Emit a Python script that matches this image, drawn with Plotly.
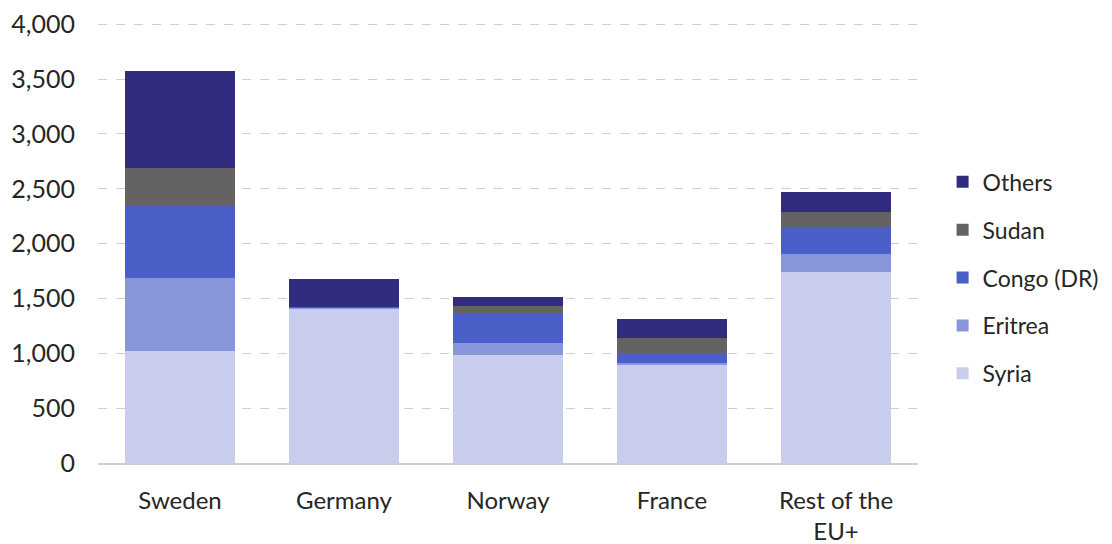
import plotly.graph_objects as go

categories = ["Sweden", "Germany", "Norway", "France", "Rest of the<br>EU+"]
syria = [1020, 1410, 985, 895, 1745]
eritrea = [670, 5, 110, 20, 160]
congo = [650, 10, 275, 80, 245]
sudan = [350, 0, 65, 140, 140]
others = [885, 255, 80, 180, 180]
y_ticks = [0, 500, 1000, 1500, 2000, 2500, 3000, 3500, 4000]

series = [
    ("Syria", syria, "#C9CDED"),
    ("Eritrea", eritrea, "#8996DC"),
    ("Congo (DR)", congo, "#4B5FC8"),
    ("Sudan", sudan, "#646262"),
    ("Others", others, "#312C80"),
]

fig = go.Figure()
for i, (name, vals, col) in enumerate(series):
    fig.add_trace(go.Bar(x=categories, y=vals, name=name, marker_color=col,
                         marker_line_width=0, legendgroup=name,
                         legendrank=len(series) - i))

fig.update_layout(
    barmode="stack",
    bargap=0.335,
    width=1104, height=536,
    margin=dict(l=90, r=194, t=14, b=81, autoexpand=False),
    paper_bgcolor="white", plot_bgcolor="white",
    font=dict(family="Lato, Open Sans, sans-serif", size=25, color="#262626"),
    legend=dict(traceorder="grouped", x=1.03, xanchor="left", y=0.42, yanchor="middle",
                font=dict(size=23), tracegroupgap=15),
    showlegend=True,
)
fig.update_yaxes(range=[0, 4020], tickmode="array", tickvals=y_ticks, tickformat=",",
                 showgrid=True, gridcolor="#d0d0d0", griddash="dash", gridwidth=1,
                 zeroline=False, showline=False, ticklabelstandoff=22,
                 ticklabeloverflow="allow", automargin=False)
fig.update_xaxes(showline=True, linecolor="#d0d0d0", linewidth=1.5, ticks="",
                 ticklabelstandoff=15, automargin=False, tickfont=dict(size=24),
                 ticklabeloverflow="allow")

fig.write_html("out.html")
